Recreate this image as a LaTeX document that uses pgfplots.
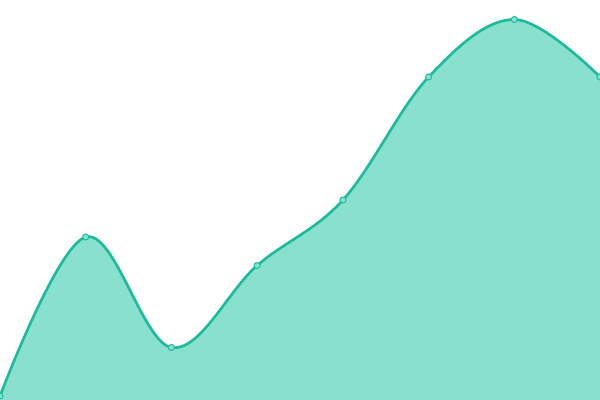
\documentclass[border=0pt]{standalone}
\usepackage{pgfplots}
\pgfplotsset{compat=1.18}
\definecolor{lineC}{HTML}{1ABC9C}
\definecolor{fillC}{HTML}{89E0CF}
\begin{document}
\begin{tikzpicture}
\begin{axis}[
  width=6in, height=4in, scale only axis,
  xmin=0, xmax=600, ymin=0, ymax=400,
  hide axis, clip=true,
]
\addplot[draw=none, fill=fillC, smooth, tension=0.6] coordinates {
  (0,4) (85.7,163) (171.4,52.5) (257.1,134.5) (342.9,200) (428.6,323) (514.3,380.5) (600,323)
} \closedcycle;
\addplot[lineC, line width=1.9pt, smooth, tension=0.6,
  mark=*, mark size=2.2pt, mark options={fill=fillC, draw=lineC, line width=0.7pt}] coordinates {
  (0,4) (85.7,163) (171.4,52.5) (257.1,134.5) (342.9,200) (428.6,323) (514.3,380.5) (600,323)
};
\end{axis}
\pgfresetboundingbox
\path (current axis.south west) rectangle (current axis.north east);
\end{tikzpicture}
\end{document}
